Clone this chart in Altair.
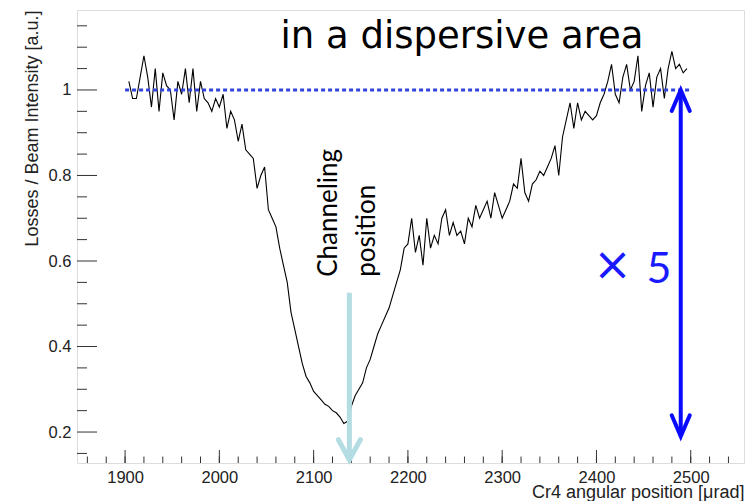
import altair as alt
import pandas as pd

# ---- data ----
angle_urad = list(range(1904, 2500, 4))
losses = [
    1.02, 0.98, 0.98, 1.03, 1.08, 1.03, 0.96, 1.05, 0.95, 1.04,
    1.01, 1.00, 0.93, 1.02, 0.99, 1.05, 0.97, 1.05, 0.95, 1.02,
    0.98, 0.97, 0.95, 0.98, 0.96, 0.99, 0.91, 0.95, 0.93, 0.88,
    0.92, 0.86, 0.85, 0.84, 0.77, 0.80, 0.82, 0.72, 0.70, 0.68,
    0.63, 0.59, 0.55, 0.48, 0.44, 0.40, 0.36, 0.33, 0.315, 0.295,
    0.285, 0.275, 0.265, 0.26, 0.25, 0.245, 0.235, 0.22, 0.225, 0.26,
    0.285, 0.30, 0.315, 0.35, 0.37, 0.40, 0.43, 0.45, 0.47, 0.49,
    0.52, 0.55, 0.58, 0.63, 0.64, 0.70, 0.62, 0.66, 0.59, 0.70,
    0.63, 0.66, 0.64, 0.70, 0.72, 0.66, 0.69, 0.66, 0.67, 0.64,
    0.70, 0.68, 0.73, 0.70, 0.72, 0.74, 0.70, 0.76, 0.73, 0.70,
    0.72, 0.74, 0.78, 0.77, 0.84, 0.76, 0.74, 0.78, 0.79, 0.81,
    0.80, 0.82, 0.84, 0.87, 0.80, 0.89, 0.93, 0.97, 0.91, 0.97,
    0.93, 0.95, 0.94, 0.93, 0.94, 0.97, 0.99, 1.02, 1.06, 0.99,
    0.97, 1.03, 1.06, 1.00, 1.02, 1.08, 0.95, 1.01, 1.04, 0.96,
    1.03, 1.05, 0.98, 1.05, 1.09, 1.05, 1.06, 1.04, 1.05,
]

x_major = [1900, 2000, 2100, 2200, 2300, 2400, 2500]
x_minor = list(range(1860, 2541, 20))
y_major = [0.2, 0.4, 0.6, 0.8, 1.0]
y_minor = [0.15, 0.25, 0.3, 0.35, 0.45, 0.5, 0.55, 0.65, 0.7, 0.75,
           0.85, 0.9, 0.95, 1.05, 1.1, 1.15]

# annotations
ref_level = [{"x": 1900, "x2": 2500, "y": 1.0}]
blue_arrow = [{"x": 2489.4, "y": 0.19, "y2": 1.0}]
cyan_arrow = [{"x": 2137.9, "y": 0.1353, "y2": 0.5256}]
title_note = [{"x": 2257.4, "y": 1.098, "t": "in a dispersive area"}]
chan_note = [{"x": 2124.9, "y": 0.563, "t": "Channeling"},
             {"x": 2165.2, "y": 0.563, "t": "position"}]
times_note = [{"x": 2417.1, "y": 0.556, "t": "×"}]
five_note = [{"x": 2466.4, "y": 0.549, "t": "5"}]

W, H = 667, 453
FONT = "Liberation Sans"
xs = alt.Scale(domain=[1849, 2556.5], nice=False, zero=False)
ys = alt.Scale(domain=[0.1276, 1.187], nice=False, zero=False)
xaxis = alt.Axis(
    values=x_major, format="d", ticks=False, domain=False, grid=False,
    labelFont=FONT, labelFontSize=16.5, labelColor="#222", labelPadding=6,
    titleFont=FONT, titleFontSize=18, titleFontWeight="normal", titleColor="#222",
    titleAnchor="end", titleAlign="right", titleX=W, titleY=34, titleBaseline="alphabetic")
yaxis = alt.Axis(
    values=y_major, format=".1~f", ticks=False, domain=False, grid=False,
    labelFont=FONT, labelFontSize=16.5, labelColor="#222", labelPadding=6,
    titleFont=FONT, titleFontSize=18, titleFontWeight="normal", titleColor="#222",
    titleAngle=270, titleAlign="right", titleX=-40, titleY=0, titleBaseline="alphabetic")
XT = "Cr4 angular position [μrad]"
YT = "Losses / Beam Intensity [a.u.]"


def X(f):
    return alt.X(f, type="quantitative", scale=xs, axis=xaxis, title=XT)


def Y(f):
    return alt.Y(f, type="quantitative", scale=ys, axis=yaxis, title=YT)


df = pd.DataFrame({"x": angle_urad, "y": losses})
curve = alt.Chart(df).mark_line(color="black", strokeWidth=1.1).encode(x=X("x"), y=Y("y"))


def xtick(vals, length):
    return alt.Chart(pd.DataFrame({"x": vals})).mark_rule(color="#333", strokeWidth=1).encode(
        x=X("x"), y=alt.value(H), y2=alt.value(H - length))


def ytick(vals, length):
    return alt.Chart(pd.DataFrame({"y": vals})).mark_rule(color="#333", strokeWidth=1).encode(
        y=Y("y"), x=alt.value(0), x2=alt.value(length))


ticks = [xtick(x_minor, 6.5), xtick(x_major, 13), ytick(y_minor, 10), ytick(y_major, 20)]

dotted = alt.Chart(pd.DataFrame(ref_level)).mark_rule(
    color="#3344dd", strokeWidth=3, strokeDash=[4, 3]).encode(x=X("x"), x2="x2:Q", y=Y("y"))

BLUE = "#0a0aff"
bshaft = alt.Chart(pd.DataFrame(blue_arrow)).mark_rule(color=BLUE, strokeWidth=4).encode(
    x=X("x"), y=Y("y"), y2="y2:Q")
bhead_top = alt.Chart(pd.DataFrame(blue_arrow)).mark_point(
    shape="M -0.43 1 L 0 0 L 0.43 1", filled=False, stroke=BLUE, strokeWidth=4,
    size=1764, opacity=1, strokeCap="round").encode(x=X("x"), y=Y("y2"))
bhead_bot = alt.Chart(pd.DataFrame(blue_arrow)).mark_point(
    shape="M -0.43 -1 L 0 0 L 0.43 -1", filled=False, stroke=BLUE, strokeWidth=4,
    size=1764, opacity=1, strokeCap="round").encode(x=X("x"), y=Y("y"))

CYAN = "#b3dde3"
cshaft = alt.Chart(pd.DataFrame(cyan_arrow)).mark_rule(color=CYAN, strokeWidth=5).encode(
    x=X("x"), y=Y("y"), y2="y2:Q")
chead = alt.Chart(pd.DataFrame(cyan_arrow)).mark_point(
    shape="M -0.55 -1 L 0 0 L 0.55 -1", filled=False, stroke=CYAN, strokeWidth=5,
    size=1600, opacity=1, strokeCap="round").encode(x=X("x"), y=Y("y"))

t_title = alt.Chart(pd.DataFrame(title_note)).mark_text(
    font="DejaVu Sans", fontSize=37, color="black", align="center", baseline="alphabetic").encode(
    x=X("x"), y=Y("y"), text="t:N")
t_chan = alt.Chart(pd.DataFrame(chan_note)).mark_text(
    font="Lato", fontSize=26, color="black", align="left", baseline="alphabetic", angle=270).encode(
    x=X("x"), y=Y("y"), text="t:N")
t_times = alt.Chart(pd.DataFrame(times_note)).mark_text(
    font="DejaVu Sans", fontSize=46, color="#1a1aff", align="center", baseline="alphabetic").encode(
    x=X("x"), y=Y("y"), text="t:N")
t_five = alt.Chart(pd.DataFrame(five_note)).mark_text(
    font="Lato", fontSize=43, color="#1a1aff", align="center", baseline="alphabetic").encode(
    x=X("x"), y=Y("y"), text="t:N")

chart = alt.layer(
    curve, *ticks, dotted, cshaft, chead, bshaft, bhead_top, bhead_bot,
    t_title, t_chan, t_times, t_five,
).properties(
    width=W, height=H,
    autosize=alt.AutoSizeParams(type="none"),
    padding={"left": 69, "top": 2, "right": 3, "bottom": 38},
).configure_view(stroke="#555", strokeWidth=1).configure(background="white")

chart.save("out.html", embed_options={"renderer": "svg", "actions": False})
